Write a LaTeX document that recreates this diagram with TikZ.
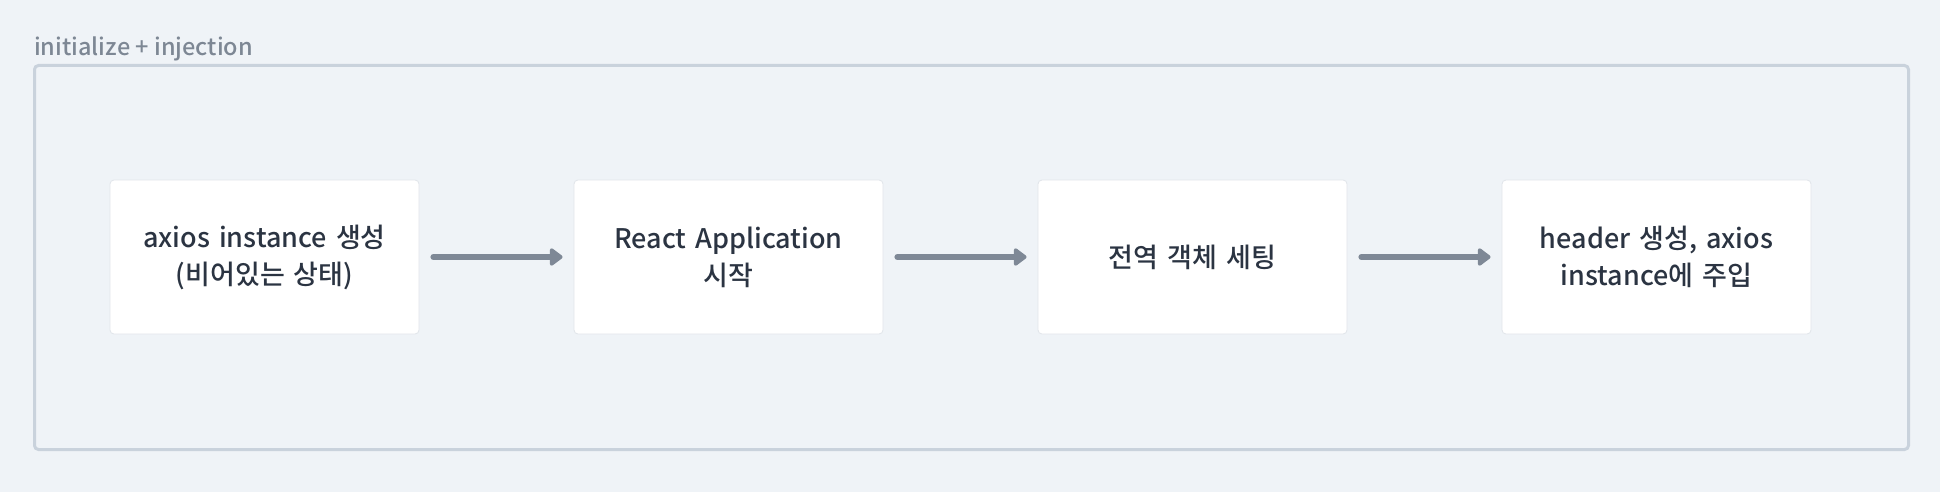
\documentclass[tikz,border=0pt]{standalone}
\usepackage{fontspec}
\setmainfont{Noto Sans CJK KR Medium}
\usepackage{xcolor}
\usepackage{tikz}
\usetikzlibrary{arrows.meta}
\definecolor{bgpage}{HTML}{EFF3F7}
\definecolor{frameline}{HTML}{C9D2DC}
\definecolor{boxline}{HTML}{E1E5EA}
\definecolor{titlegray}{HTML}{7D8794}
\definecolor{textdark}{HTML}{2B3442}
\definecolor{arrowgray}{HTML}{7E8896}
\tikzset{
    stepbox/.style={draw=boxline, line width=0.8pt, fill=white, rounded corners=4pt,
        minimum width=309pt, minimum height=154pt, text width=290pt, align=center,
        text=textdark, font={\fontsize{27}{37}\selectfont}, inner sep=0pt},
    flow/.style={draw=arrowgray, line width=6pt, line cap=round,
        -{Triangle[length=14pt, width=20pt, round=false]},
        shorten <=14pt, shorten >=11pt}
}

\begin{document}
\begin{tikzpicture}[x=1pt, y=-1pt]
            \fill[bgpage] (0, 0) rectangle (1940, 492);
            \useasboundingbox (0, 0) rectangle (1940, 492);

            \draw[frameline, line width=3pt, rounded corners=4pt] (34.5, 65.5) rectangle (1908.5, 449.5);
            \node[anchor=base west, inner sep=0pt, text=titlegray, font={\fontsize{23.5}{28}\selectfont}] (title) at (34, 56) {initialize + injection};

            \node[stepbox] (axios) at (264.5, 257) {axios instance 생성\\(비어있는 상태)};
            \node[stepbox] (react) at (728.5, 257) {React Application\\시작};
            \node[stepbox] (global) at (1192.5, 257) {전역 객체 세팅};
            \node[stepbox] (header) at (1656.5, 257) {header 생성, axios\\instance에 주입};

            \draw[flow] (axios) -- (react);
            \draw[flow] (react) -- (global);
            \draw[flow] (global) -- (header);

        \end{tikzpicture}
\end{document}
